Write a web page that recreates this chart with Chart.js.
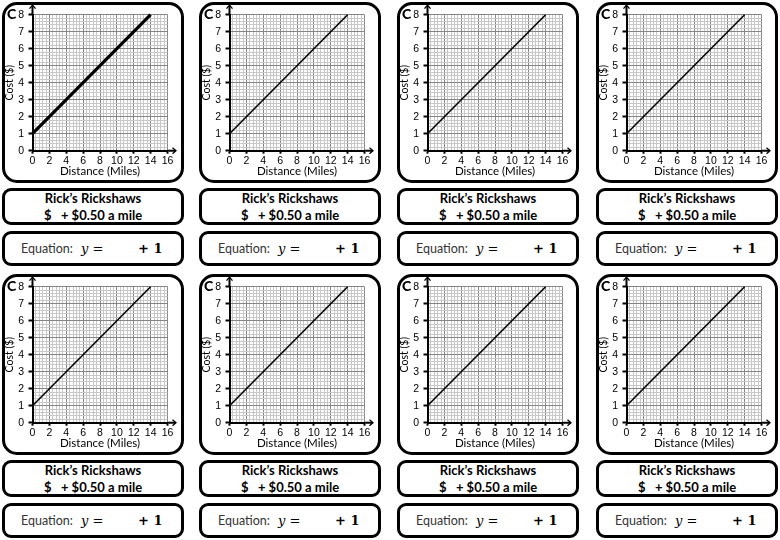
<!DOCTYPE html>
<html>
<head>
<meta charset="utf-8">
<script src="https://cdn.jsdelivr.net/npm/chart.js@4.4.0/dist/chart.umd.min.js"></script>
<style>
  html, body { margin: 0; padding: 0; background: #fff; }
  #sheet { position: relative; width: 780px; height: 540px; overflow: hidden; font-family: Lato, sans-serif; }
  .card, .name, .eq { position: absolute; box-sizing: border-box; border: 3px solid #000; background: #fff; }
  .card { width: 182px; height: 181px; border-radius: 15px; }
  .card canvas { position: absolute; left: -3px; top: -3px; }
  .letter { position: absolute; left: 2px; top: 2px; font: 900 14px/14px Lato, sans-serif; }
  .name { width: 182px; height: 37px; border-radius: 9px; font-weight: bold; font-size: 13px; }
  .name div { position: absolute; left: 0; right: 0; text-align: center; line-height: 16px; white-space: pre; }
  .eq { width: 182px; height: 35px; border-radius: 9px; }
  .eq span { position: absolute; top: 7px; line-height: 16px; white-space: pre; }
  .eq .word { font-size: 12.5px; color: #333; }
  .eq .math { font: 13px 'DejaVu Serif', serif; }
  .eq .plus { font: bold 13px 'DejaVu Serif', serif; }
</style>
</head>
<body>
<div id="sheet"></div>
<script>
// one line per card: distance (miles) -> cost ($)
const distance = [0, 14];
const cost = [1, 8];

const xTickLabels = [0, 2, 4, 6, 8, 10, 12, 14, 16];
const yTickLabels = [0, 1, 2, 3, 4, 5, 6, 7, 8];

const company = 'Rick’s Rickshaws';
const rateLine = '$   + $0.50 a mile';
const intercept = '+ 1';

// layout of the 8 cards
const colLefts = [2, 199, 397, 596];
const rowTops = [2, 274];
const lineWidths = [3.2, 1.5, 1.5, 1.5, 1.5, 1.5, 1.5, 1.5];

const majorGrid = '#858585';
const minorGrid = '#c8c8c8';
const tickFont = { family: "'Liberation Sans Narrow', 'Liberation Sans', sans-serif", size: 10.5 };

const isMajor = (v, labels) => labels.some(l => Math.abs(l - v) < 1e-6);

const axisArrows = {
    id: 'axisArrows',
    afterDraw(chart) {
        const { ctx, chartArea: a } = chart;
        ctx.save();
        ctx.strokeStyle = '#000';
        ctx.lineWidth = 2;
        ctx.beginPath();
        ctx.moveTo(a.right, a.bottom); ctx.lineTo(a.right + 8, a.bottom);
        ctx.moveTo(a.left, a.top); ctx.lineTo(a.left, a.top - 9);
        ctx.stroke();
        ctx.lineWidth = 1.3;
        ctx.beginPath();
        ctx.moveTo(a.right + 5, a.bottom - 3); ctx.lineTo(a.right + 8.5, a.bottom); ctx.lineTo(a.right + 5, a.bottom + 3);
        ctx.moveTo(a.left - 3, a.top - 6); ctx.lineTo(a.left, a.top - 9.5); ctx.lineTo(a.left + 3, a.top - 6);
        ctx.stroke();
        ctx.restore();
    }
};

const sheet = document.getElementById('sheet');

function makeBox(cls, left, top) {
    const el = document.createElement('div');
    el.className = cls;
    el.style.left = left + 'px';
    el.style.top = top + 'px';
    sheet.appendChild(el);
    return el;
}

for (let i = 0; i < 8; i++) {
    const left = colLefts[i % 4];
    const top = rowTops[Math.floor(i / 4)];

    const card = makeBox('card', left, top);
    const canvas = document.createElement('canvas');
    canvas.width = 182;
    canvas.height = 181;
    card.appendChild(canvas);
    const letter = document.createElement('div');
    letter.className = 'letter';
    letter.textContent = 'C';
    card.appendChild(letter);

    const name = makeBox('name', left, top + 186);
    name.innerHTML = '<div style="top:-1px"></div><div style="top:16px"></div>';
    name.children[0].textContent = company;
    name.children[1].textContent = rateLine;

    const eq = makeBox('eq', left, top + 229);
    eq.innerHTML = '<span class="word" style="left:16px">Equation:</span>' +
        '<span class="math" style="left:76px"><i>y</i> =</span>' +
        '<span class="plus" style="left:133px"></span>';
    eq.children[2].textContent = intercept;

    new Chart(canvas, {
        type: 'line',
        data: {
            datasets: [{
                data: distance.map((d, k) => ({ x: d, y: cost[k] })),
                borderColor: '#000',
                borderWidth: lineWidths[i],
                pointRadius: 0,
                tension: 0,
                clip: false,
            }],
        },
        options: {
            responsive: false,
            animation: false,
            layout: { padding: { left: 0, top: 12.7, right: 16.5, bottom: 0 } },
            plugins: { legend: { display: false }, tooltip: { enabled: false } },
            scales: {
                x: {
                    type: 'linear', min: 0, max: 16,
                    afterFit: s => { s.height = 32.3; },
                    ticks: {
                        stepSize: 0.4, autoSkip: false, maxRotation: 0, minRotation: 0,
                        padding: 1.5, color: '#000', font: tickFont,
                        callback: v => isMajor(v, xTickLabels) ? String(Math.round(v)) : '',
                    },
                    grid: {
                        color: c => (c.tick && isMajor(c.tick.value, xTickLabels)) ? majorGrid : minorGrid,
                        tickColor: c => (c.tick && isMajor(c.tick.value, xTickLabels)) ? '#000' : 'rgba(0,0,0,0)',
                        tickLength: 3, tickWidth: 2, lineWidth: 1,
                    },
                    border: { color: '#000', width: 2 },
                    title: {
                        display: true, text: 'Distance (Miles)', color: '#000',
                        font: { family: 'Lato', size: 11.5, lineHeight: 1.2 },
                        padding: { top: 0, bottom: 4.4 },
                    },
                },
                y: {
                    type: 'linear', min: 0, max: 8,
                    afterFit: s => { s.width = 30.5; },
                    ticks: {
                        stepSize: 0.2, autoSkip: false,
                        padding: 4.5, color: '#000', font: tickFont,
                        callback: v => isMajor(v, yTickLabels) ? String(Math.round(v)) : '',
                    },
                    grid: {
                        color: c => (c.tick && isMajor(c.tick.value, yTickLabels)) ? majorGrid : minorGrid,
                        tickColor: c => (c.tick && isMajor(c.tick.value, yTickLabels)) ? '#000' : 'rgba(0,0,0,0)',
                        tickLength: 4, tickWidth: 2, lineWidth: 1,
                    },
                    border: { color: '#000', width: 2 },
                    title: {
                        display: true, text: 'Cost ($)', color: '#000',
                        font: { family: 'Lato', size: 10.5, lineHeight: 1 },
                        padding: { top: 2.75, bottom: 0 },
                    },
                },
            },
        },
        plugins: [axisArrows],
    });
}
</script>
</body>
</html>
